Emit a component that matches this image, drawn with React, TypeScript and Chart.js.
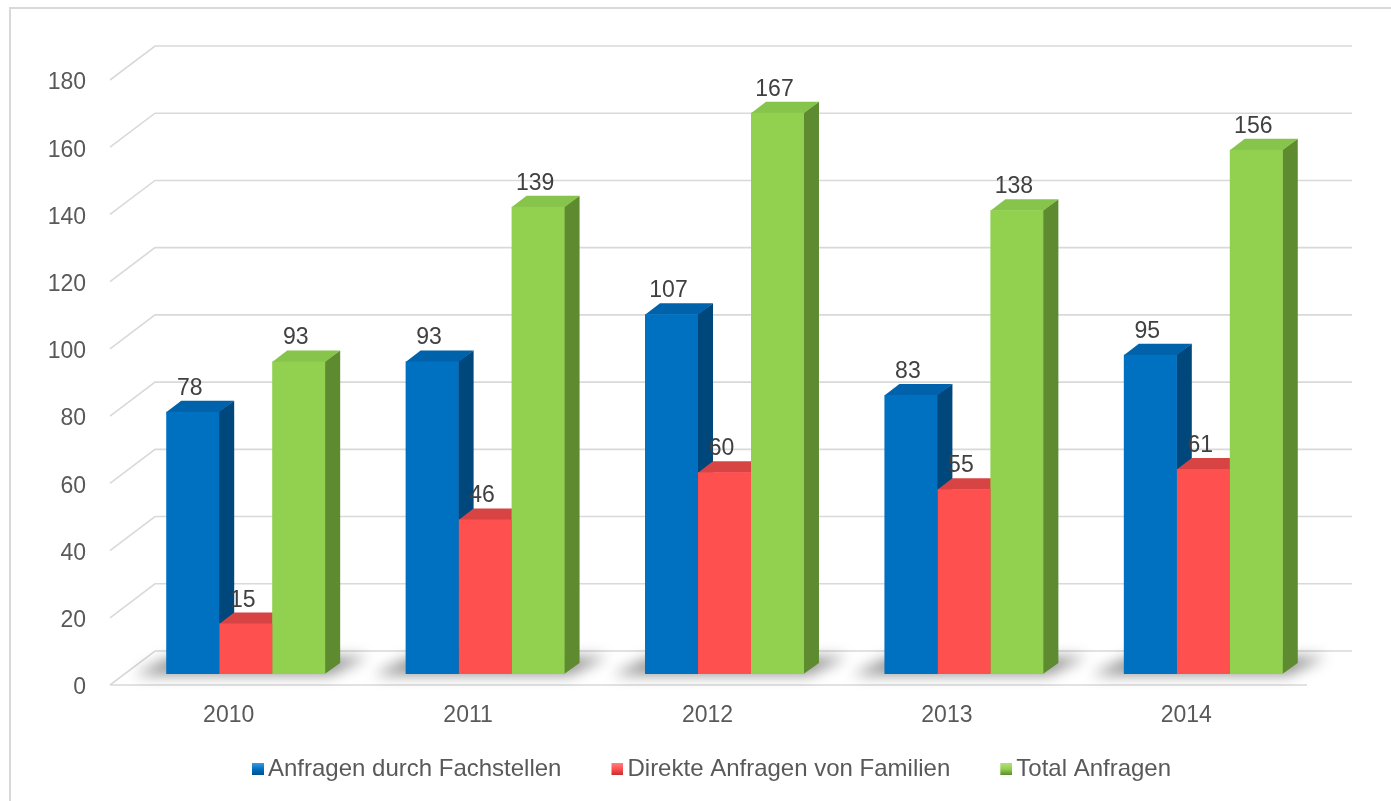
import React, { useEffect, useRef } from 'react';
import { Chart, registerables } from 'chart.js';

Chart.register(...registerables);

// ---- data ----
const categories = ['2010', '2011', '2012', '2013', '2014'];
const seriesNames = ['Anfragen durch Fachstellen', 'Direkte Anfragen von Familien', 'Total Anfragen'];
const fachstellen = [78, 93, 107, 83, 95];
const familien = [15, 46, 60, 55, 61];
const totalAnfragen = [93, 139, 167, 138, 156];
const yMin = 0;
const yMax = 180;
const yStep = 20;

// ---- styles ----
const frontColors = ['#0070C0', '#FF5050', '#92D050'];
const sideColors = ['#00477C', '#C23C3C', '#5E8B30'];
const topColors = ['#0062AA', '#D84444', '#86C44B'];
const legendLight = ['#3A9BE0', '#FF8080', '#B5E07A'];
const legendDark = ['#00508C', '#C42F2F', '#5E8B30'];

const FONT = '"Liberation Sans", Arial, sans-serif';
const DEPTH_X = 15;
const DEPTH_Y = 11;
const FRONT_DX = -16;
const FRONT_DY = 11;
const BACK_DX = 29;
const BACK_DY = -23;

function makeLegendImage(i: number): HTMLCanvasElement {
  const c = document.createElement('canvas');
  c.width = 40;
  c.height = 12;
  const g = c.getContext('2d')!;
  const grad = g.createLinearGradient(0, 0, 0, 12);
  grad.addColorStop(0, legendLight[i]);
  grad.addColorStop(0.5, frontColors[i]);
  grad.addColorStop(1, legendDark[i]);
  g.fillStyle = grad;
  g.fillRect(28, 0, 12, 12);
  return c;
}

const bars3d = {
  id: 'bars3d',
  beforeDraw(chart: any) {
    const { ctx } = chart;
    ctx.save();
    ctx.strokeStyle = '#d9d9d9';
    ctx.lineWidth = 2;
    ctx.strokeRect(10, 8, 1420, 840);
    ctx.restore();
  },
  beforeDatasetsDraw(chart: any) {
    const { ctx, chartArea } = chart;
    const ys = chart.scales.y;
    ctx.save();
    // 3D grid: left wall diagonals and back wall lines
    ctx.strokeStyle = '#d9d9d9';
    ctx.lineWidth = 1.6;
    ys.ticks.forEach((t: any) => {
      const py = ys.getPixelForValue(t.value);
      ctx.beginPath();
      ctx.moveTo(chartArea.left + FRONT_DX, py + FRONT_DY);
      ctx.lineTo(chartArea.left + BACK_DX, py + BACK_DY);
      ctx.lineTo(chartArea.right + BACK_DX, py + BACK_DY);
      ctx.stroke();
    });
    const p0 = ys.getPixelForValue(0);
    ctx.beginPath();
    ctx.moveTo(chartArea.left + FRONT_DX, p0 + FRONT_DY);
    ctx.lineTo(chartArea.right + FRONT_DX, p0 + FRONT_DY);
    ctx.stroke();

    const metas = chart.data.datasets.map((_: any, i: number) => chart.getDatasetMeta(i));
    // floor shadows
    categories.forEach((_, ci) => {
      let l = Infinity;
      let r = -Infinity;
      let base = p0;
      metas.forEach((m: any) => {
        const el = m.data[ci];
        if (!el) return;
        l = Math.min(l, el.x - el.width / 2);
        r = Math.max(r, el.x + el.width / 2);
        base = el.base;
      });
      ctx.save();
      ctx.filter = 'blur(7px)';
      ctx.fillStyle = 'rgba(0,0,0,0.42)';
      ctx.beginPath();
      ctx.moveTo(l - 32, base + 1);
      ctx.lineTo(r + 5, base + 1);
      ctx.lineTo(r + DEPTH_X + 28, base - DEPTH_Y - 6);
      ctx.lineTo(l + 5, base - DEPTH_Y - 6);
      ctx.closePath();
      ctx.fill();
      ctx.restore();
    });

    // side and top faces, painted left to right
    categories.forEach((_, ci) => {
      metas.forEach((m: any, di: number) => {
        const el = m.data[ci];
        if (!el) return;
        const xl = el.x - el.width / 2;
        const xr = el.x + el.width / 2;
        const top = el.y;
        const base = el.base;
        // side
        ctx.fillStyle = sideColors[di];
        ctx.beginPath();
        ctx.moveTo(xr - 0.5, top);
        ctx.lineTo(xr + DEPTH_X, top - DEPTH_Y);
        ctx.lineTo(xr + DEPTH_X, base - DEPTH_Y);
        ctx.lineTo(xr - 0.5, base);
        ctx.closePath();
        ctx.fill();
        // top
        ctx.fillStyle = topColors[di];
        ctx.beginPath();
        ctx.moveTo(xl, top + 0.5);
        ctx.lineTo(xl + DEPTH_X, top - DEPTH_Y);
        ctx.lineTo(xr + DEPTH_X, top - DEPTH_Y);
        ctx.lineTo(xr, top + 0.5);
        ctx.closePath();
        ctx.fill();
      });
    });
    ctx.restore();
  },
  afterDatasetsDraw(chart: any) {
    const { ctx } = chart;
    ctx.save();
    ctx.fillStyle = '#404040';
    ctx.font = `23px ${FONT}`;
    ctx.textAlign = 'center';
    ctx.textBaseline = 'alphabetic';
    chart.data.datasets.forEach((ds: any, di: number) => {
      const m = chart.getDatasetMeta(di);
      m.data.forEach((el: any, i: number) => {
        ctx.fillText(String(ds.data[i]), el.x - 3, el.y - 17);
      });
    });
    ctx.restore();
  },
};

export default function App() {
  const ref = useRef<HTMLCanvasElement | null>(null);

  useEffect(() => {
    document.body.style.margin = '0';
    document.body.style.overflow = 'hidden';
    const canvas = ref.current;
    if (!canvas) return;
    const legendImgs = [0, 1, 2].map(makeLegendImage);
    const seriesValues = [fachstellen, familien, totalAnfragen];

    const chart = new Chart(canvas, {
      type: 'bar',
      data: {
        labels: categories,
        datasets: seriesNames.map((name, i) => ({
          label: name,
          data: seriesValues[i],
          backgroundColor: frontColors[i],
          borderWidth: 0,
          categoryPercentage: 0.664,
          barPercentage: 1.0,
        })),
      },
      options: {
        responsive: false,
        animation: false,
        devicePixelRatio: 1,
        layout: { padding: { left: 12, right: 0, top: 69, bottom: 10 } },
        font: { family: FONT },
        scales: {
          x: {
            grid: { display: false, drawTicks: false },
            border: { display: false },
            ticks: {
              color: '#595959',
              font: { size: 23, family: FONT },
              padding: 28,
              labelOffset: -17,
              maxRotation: 0,
            },
            afterFit: (s: any) => {
              s.height = 53;
            },
          },
          y: {
            min: yMin,
            max: yMax,
            grid: { display: false, drawTicks: false },
            border: { display: false },
            ticks: {
              stepSize: yStep,
              color: '#595959',
              font: { size: 23, family: FONT },
              padding: 40,
              labelOffset: 14,
            },
            afterFit: (s: any) => {
              s.width = 114;
            },
          },
          yRight: {
            position: 'right',
            display: true,
            grid: { display: false, drawTicks: false },
            border: { display: false },
            ticks: { display: false },
            afterFit: (s: any) => {
              s.width = 68;
            },
          },
        },
        plugins: {
          tooltip: { enabled: false },
          legend: {
            position: 'bottom',
            labels: {
              usePointStyle: true,
              pointStyleWidth: 24,
              boxHeight: 12,
              padding: 30,
              color: '#595959',
              font: { size: 24, family: FONT },
              generateLabels: (c: any) =>
                c.data.datasets.map((ds: any, i: number) => ({
                  text: ds.label,
                  pointStyle: legendImgs[i],
                  fillStyle: frontColors[i],
                  strokeStyle: 'rgba(0,0,0,0)',
                  lineWidth: 0,
                  hidden: false,
                  datasetIndex: i,
                  fontColor: '#595959',
                })),
            },
          },
        },
      },
      plugins: [bars3d],
    } as any);

    return () => chart.destroy();
  }, []);

  return (
    <div style={{ width: 1391, height: 801, position: 'relative', background: '#fff' }}>
      <canvas ref={ref} width={1391} height={801} style={{ display: 'block' }} />
    </div>
  );
}
